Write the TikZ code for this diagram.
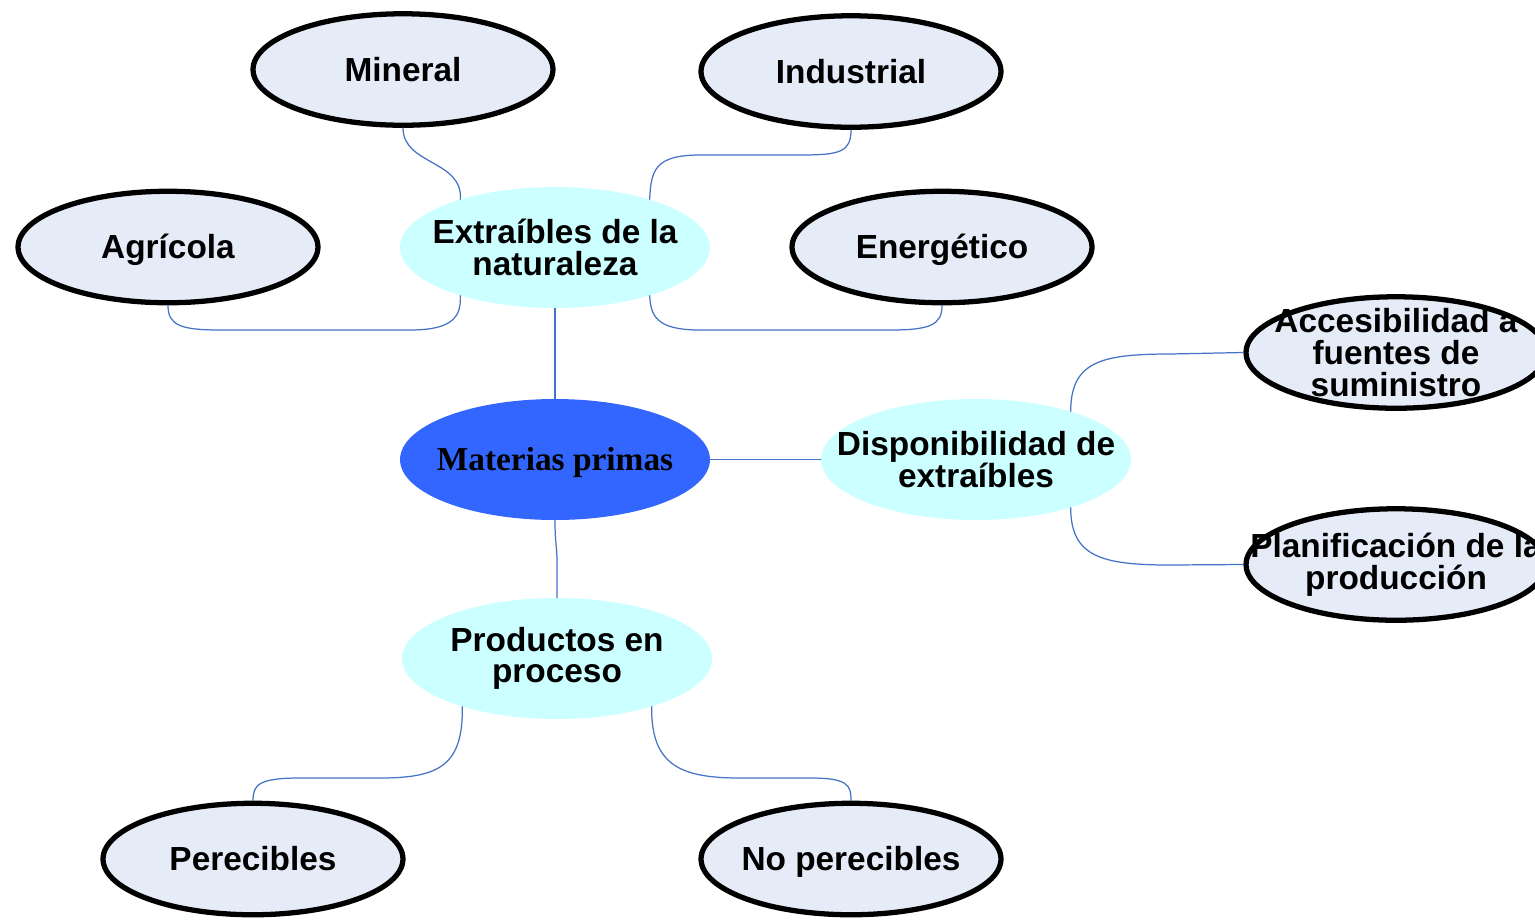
\documentclass[tikz,border=0pt]{standalone}
\usepackage{fontspec}
\setmainfont{Liberation Serif}
\setsansfont{Liberation Sans}
\usetikzlibrary{shapes.geometric}
\definecolor{colRaiz}{HTML}{3366FF}
\definecolor{colRama}{HTML}{CCFFFF}
\definecolor{colHoja}{HTML}{E6ECF7}
\definecolor{colEnlace}{HTML}{4472C4}

\begin{document}
\begin{tikzpicture}[line cap=round,line join=round,x=0.02cm,y=-0.02cm,
	raiz/.style={ellipse,fill=colRaiz,minimum width=6.2cm,minimum height=2.42cm,inner xsep=-4cm,inner ysep=-3cm,text height=13pt,text depth=0.4pt,font=\fontsize{19}{18}\selectfont\rmfamily\bfseries},
	rama/.style={ellipse,fill=colRama,minimum width=6.2cm,minimum height=2.42cm,inner xsep=-4cm,inner ysep=-3cm,align=center,font=\fontsize{19}{18}\selectfont\sffamily\bfseries},
	hoja/.style={ellipse,draw=black,line width=3pt,fill=colHoja,minimum width=6cm,minimum height=2.23cm,inner xsep=-4cm,inner ysep=-3cm,align=center,font=\fontsize{19}{18}\selectfont\sffamily\bfseries},
	linea/.style={text height=14pt,text depth=0.4pt},
	enlace/.style={draw=colEnlace,line width=0.7pt}]
		\useasboundingbox [fill=white] (0,0) rectangle (1535,921);
		\node[raiz] (mp) at (555,459.5) {Materias primas};
		\node[rama] (ext) at (555,247.5) {Extraíbles de la\\naturaleza};
		\node[rama] (dis) at (976,459.5) {Disponibilidad de\\extraíbles};
		\node[rama] (pro) at (557,658.5) {Productos en\\proceso};
		\node[hoja,linea] (min) at (403,69.5) {Mineral};
		\node[hoja,linea] (ind) at (851,71.5) {Industrial};
		\node[hoja,linea] (agr) at (168,247) {Agrícola};
		\node[hoja,linea] (ene) at (942,247) {Energético};
		\node[hoja] (acc) at (1396,352.5) {Accesibilidad a\\fuentes de\\suministro};
		\node[hoja] (pla) at (1396,564.5) {Planificación de la\\producción};
		\node[hoja,linea] (per) at (253,859) {Perecibles};
		\node[hoja,linea] (nop) at (851,859) {No perecibles};
		\draw [enlace] (ext.south) -- (mp.north);
		\draw [enlace] (mp.east) -- (dis.west);
		\draw [enlace] (mp.south) .. controls (555,545) and (557,545) .. (557,562) -- (pro.north);
		\draw [enlace] (min.south) .. controls (403,165) and (463,160) .. (ext.153);
		\draw [enlace] (ind.south) .. controls (851,152) and (840,155) .. (800,155) -- (700,155) .. controls (655,155) and (651,170) .. (ext.27);
		\draw [enlace] (agr.south) .. controls (168,325) and (180,330) .. (220,330) -- (410,330) .. controls (455,330) and (461,315) .. (ext.207);
		\draw [enlace] (ene.south) .. controls (942,325) and (930,330) .. (890,330) -- (700,330) .. controls (655,330) and (651,315) .. (ext.-27);
		\draw [enlace] (dis.27) .. controls (1071,362) and (1100,354) .. (1170,354) -- (acc.west);
		\draw [enlace] (dis.-27) .. controls (1071,556) and (1100,565) .. (1170,565) -- (pla.west);
		\draw [enlace] (pro.207) .. controls (463,765) and (440,778) .. (380,778) -- (300,778) .. controls (258,778) and (253,785) .. (per.north);
		\draw [enlace] (pro.-27) .. controls (651,765) and (680,778) .. (740,778) -- (810,778) .. controls (848,778) and (851,785) .. (nop.north);
\end{tikzpicture}
\end{document}
